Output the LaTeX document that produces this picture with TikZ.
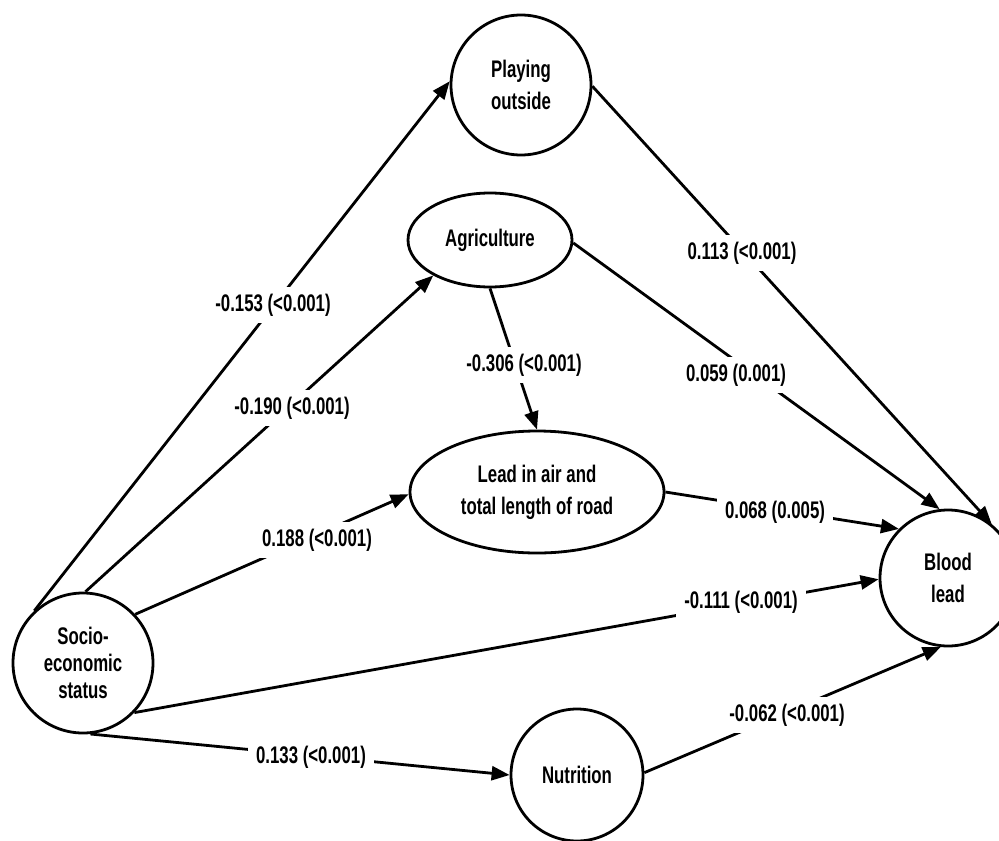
\documentclass[tikz,border=0pt]{standalone}
\usepackage{fontspec}
\setmainfont{Liberation Sans}[FakeStretch=0.7]
\usetikzlibrary{arrows.meta,shapes.geometric}
\begin{document}
\begin{tikzpicture}[x=0.5pt,y=-0.5pt,
  every node/.style={font=\fontsize{12}{16}\selectfont\bfseries},
  circ/.style={circle,draw,line width=1.4pt,minimum size=#1,inner sep=0pt,align=center},
  ell/.style={ellipse,draw,line width=1.4pt,inner sep=0pt,align=center},
  conn/.style={line width=1.4pt,-{Triangle[length=9pt,width=7pt]}},
  lab/.style={fill=white,inner xsep=4pt,inner ysep=3.5pt}]
\clip (0,0) rectangle (999,840);
\fill[white] (0,0) rectangle (999,840);
% nodes
\node[circ=70pt] (play) at (521,85) {Playing\\outside};
\node[ell,minimum width=82pt,minimum height=47pt] (agri) at (490,240) {Agriculture};
\node[ell,minimum width=127pt,minimum height=61pt] (lead) at (537,492) {Lead in air and\\total length of road};
\node[circ=68pt] (blood) at (948,578) {Blood\\lead};
\node[circ=70pt,font=\fontsize{12}{13.5}\selectfont\bfseries] (ses) at (83,663) {Socio-\\economic\\status};
\node[circ=66pt] (nut) at (577,775) {Nutrition};
% connectors
\draw[conn] (ses.133) -- (play.177);
\draw[conn] (ses.88) -- (agri.212);
\draw[conn] (ses.43) -- (lead.181);
\draw[conn] (ses.-44) -- (blood.181);
\draw[conn] (ses.-84) -- (nut.180);
\draw[conn] (agri.270) -- (lead.90);
\draw[conn] (agri.-2) -- (blood.97);
\draw[conn] (play.-1) -- (blood.51);
\draw[conn] (lead.0) -- (blood.135);
\draw[conn] (nut.2) -- (blood.264);
% labels
\node[lab] (l1) at (273,305) {-0.153 (<0.001)};
\node[lab] (l2) at (292,408) {-0.190 (<0.001)};
\node[lab] (l3) at (317,540) {0.188 (<0.001)};
\node[lab] (l4) at (524,365) {-0.306 (<0.001)};
\node[lab] (l5) at (742,253) {0.113 (<0.001)};
\node[lab] (l6) at (736,375) {0.059 (0.001)};
\node[lab] (l7) at (775,512) {0.068 (0.005)};
\node[lab] (l8) at (741,602) {-0.111 (<0.001)};
\node[lab] (l9) at (311,757) {0.133 (<0.001)};
\node[lab] (l10) at (787,715) {-0.062 (<0.001)};
\end{tikzpicture}
\end{document}
